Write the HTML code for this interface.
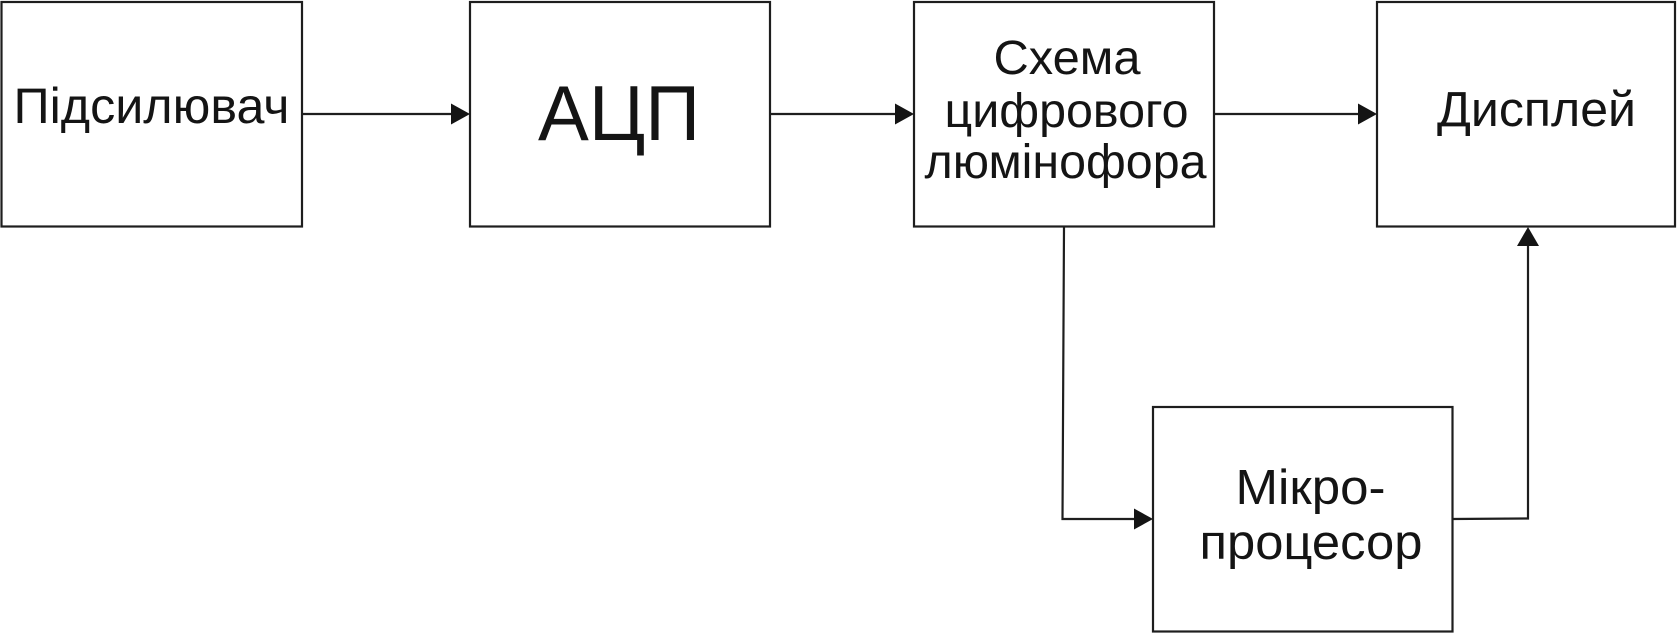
<!DOCTYPE html>
<html>
<head>
<meta charset="utf-8">
<style>
  html, body { margin: 0; padding: 0; background: #ffffff; }
  body { width: 1679px; height: 633px; overflow: hidden; }
  svg { display: block; }
  text { font-family: "Liberation Sans", "DejaVu Sans", sans-serif; fill: #141414; }
</style>
</head>
<body>
<svg width="1679" height="633" viewBox="0 0 1679 633" xmlns="http://www.w3.org/2000/svg">
  <rect x="0" y="0" width="1679" height="633" fill="#ffffff"/>
  <g fill="none" stroke="#1e1e1e" stroke-width="2.2">
    <!-- boxes -->
    <rect x="1.5" y="2" width="300.5" height="224.5"/>
    <rect x="470" y="2" width="300" height="224.5"/>
    <rect x="914" y="2" width="300" height="224.5"/>
    <rect x="1377" y="2" width="298" height="224.5"/>
    <rect x="1153" y="407" width="299.5" height="224.5"/>
    <!-- connectors -->
    <line x1="302" y1="114" x2="453" y2="114"/>
    <line x1="770" y1="114" x2="897" y2="114"/>
    <line x1="1214" y1="114" x2="1360" y2="114"/>
    <polyline points="1064,227 1062.5,519 1136,519"/>
    <polyline points="1452,519 1528,518.5 1528,244"/>
  </g>
  <g fill="#141414">
    <polygon points="451,103.5 470,114 451,124.5"/>
    <polygon points="895,103.5 914,114 895,124.5"/>
    <polygon points="1358,103.5 1377,114 1358,124.5"/>
    <polygon points="1134,508.5 1153,519 1134,529.5"/>
    <polygon points="1517,246 1528,227 1539,246"/>
  </g>
  <!-- labels -->
  <text x="151.5" y="123" font-size="50" text-anchor="middle" textLength="276" lengthAdjust="spacingAndGlyphs">Підсилювач</text>
  <text x="619" y="140" font-size="78" text-anchor="middle" textLength="162" lengthAdjust="spacingAndGlyphs">АЦП</text>
  <text x="1067" y="74" font-size="48" text-anchor="middle" textLength="147" lengthAdjust="spacingAndGlyphs">Схема</text>
  <text x="1066.5" y="127" font-size="48" text-anchor="middle" textLength="244" lengthAdjust="spacingAndGlyphs">цифрового</text>
  <text x="1065.5" y="178" font-size="48" text-anchor="middle" textLength="282" lengthAdjust="spacingAndGlyphs">люмінофора</text>
  <text x="1536.5" y="126" font-size="49" text-anchor="middle" textLength="199" lengthAdjust="spacingAndGlyphs">Дисплей</text>
  <text x="1310.5" y="504" font-size="49" text-anchor="middle" textLength="150" lengthAdjust="spacingAndGlyphs">Мікро-</text>
  <text x="1311" y="559" font-size="49" text-anchor="middle" textLength="223" lengthAdjust="spacingAndGlyphs">процесор</text>
</svg>
</body>
</html>
